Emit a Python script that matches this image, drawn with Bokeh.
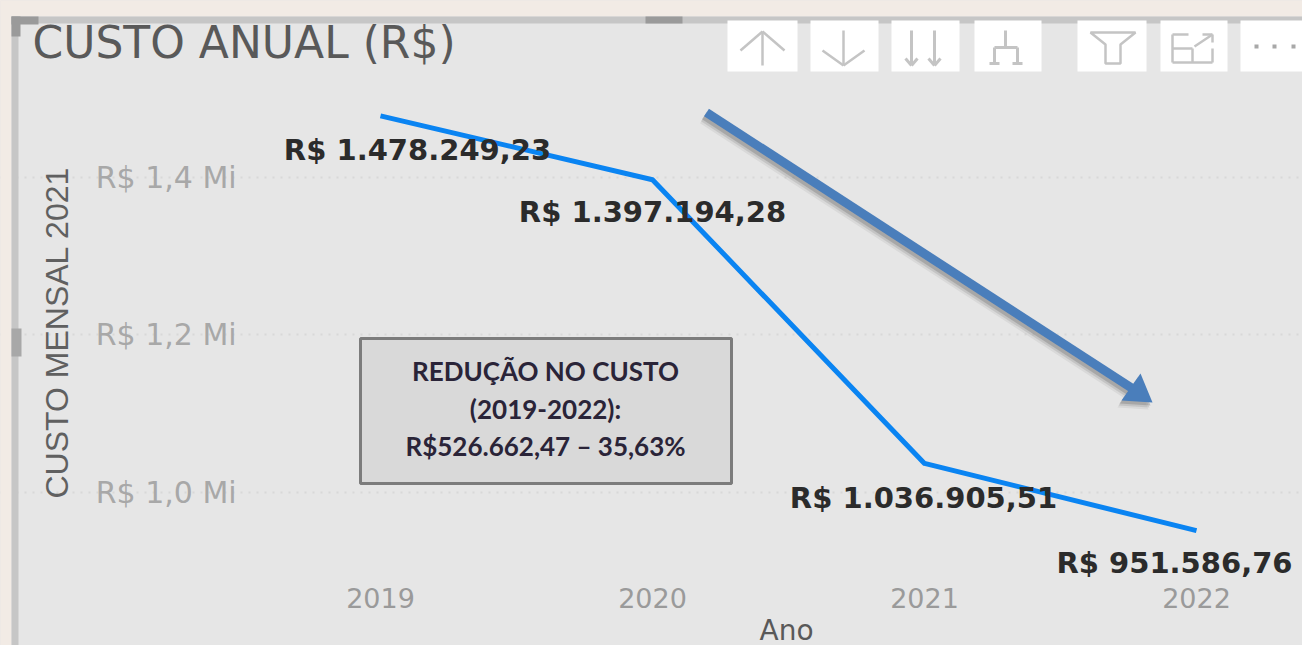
from bokeh.plotting import figure
from bokeh.embed import file_html
from bokeh.resources import INLINE
from bokeh.models import ColumnDataSource, FixedTicker, Label, BoxAnnotation, Arrow, PolyAnnotation, Range1d
from bokeh.core.properties import value

years = [2019, 2020, 2021, 2022]
costs = [1478249.23, 1397194.28, 1036905.51, 951586.76]
cost_labels = ["R$ 1.478.249,23", "R$ 1.397.194,28", "R$ 1.036.905,51", "R$ 951.586,76"]
y_ticks = [1000000, 1200000, 1400000]
y_tick_labels = ["R$ 1,0 Mi", "R$ 1,2 Mi", "R$ 1,4 Mi"]
chart_title = "CUSTO ANUAL (R$)"
y_title = "CUSTO MENSAL 2021"
x_title = "Ano"
note_lines = ["REDUÇÃO NO CUSTO", "(2019-2022):", "R$526.662,47 – 35,63%"]

BG = "#e6e6e6"
BEIGE = "#f2ebe5"
ICON = "#c4c4c4"
W, H = 1302, 645

# The frame fills the canvas, so that the panel chrome is not clipped; the axes sit at fixed places inside it.
X_LEFT, X_RIGHT = 2019 - 380 / 272, 2019 + 922 / 272
Y_TOP, Y_BOTTOM = 1624760, 805710
AXIS_X, AXIS_X_END = 2018.596, 2022.39
AXIS_Y, AXIS_Y_END = 888254, 1518000

p = figure(width=W, height=H, output_backend="svg", toolbar_location=None,
           x_range=Range1d(X_LEFT, X_RIGHT), y_range=Range1d(Y_BOTTOM, Y_TOP),
           min_border_left=0, min_border_right=0, min_border_top=0, min_border_bottom=0,
           background_fill_color=BG, border_fill_color=BG, outline_line_color=None)

xa = p.xaxis[0]
xa.fixed_location = AXIS_Y
xa.bounds = (AXIS_X, AXIS_X_END)
xa.ticker = FixedTicker(ticks=years)
xa.major_label_overrides = {y: str(y) for y in years}
xa.major_label_text_font = "DejaVu Sans"
xa.major_label_text_font_size = "27px"
xa.major_label_text_color = "#9a9a9a"
xa.major_label_standoff = 2
xa.axis_label = x_title
xa.axis_label_text_font = "DejaVu Sans"
xa.axis_label_text_font_size = "28px"
xa.axis_label_text_font_style = "normal"
xa.axis_label_text_color = "#595959"
xa.axis_label_standoff = 2

ya = p.yaxis[0]
ya.fixed_location = AXIS_X
ya.bounds = (AXIS_Y, AXIS_Y_END)
ya.ticker = FixedTicker(ticks=y_ticks)
ya.major_label_overrides = dict(zip(y_ticks, y_tick_labels))
ya.major_label_text_font = "DejaVu Sans"
ya.major_label_text_font_size = "30px"
ya.major_label_text_color = "#a8a8a8"
ya.major_label_standoff = 28
ya.axis_label = y_title
ya.axis_label_text_font = "Liberation Sans"
ya.axis_label_text_font_size = "32px"
ya.axis_label_text_font_style = "normal"
ya.axis_label_text_color = "#606060"
ya.axis_label_standoff = 18
for ax in (xa, ya):
    ax.axis_line_color = None
    ax.major_tick_line_color = None
    ax.minor_tick_line_color = None

p.xgrid.grid_line_color = None
p.ygrid.ticker = FixedTicker(ticks=y_ticks)
p.ygrid.bounds = (AXIS_X, AXIS_X_END)
p.ygrid.grid_line_color = "#d8d8d8"
p.ygrid.grid_line_dash = "2 6"
p.ygrid.grid_line_width = 2


def box(l, t, r, b, fill, line=None, lw=1):
    p.add_layout(BoxAnnotation(left=l, right=r, top=t, bottom=b, left_units="canvas", right_units="canvas",
                               top_units="canvas", bottom_units="canvas", fill_color=fill, fill_alpha=1,
                               line_color=line, line_alpha=1, line_width=lw))


def poly(xs, ys, fill=None, alpha=0, lw=2.5, line=ICON):
    p.add_layout(PolyAnnotation(xs=xs, ys=ys, xs_units="canvas", ys_units="canvas", line_color=line, line_alpha=1,
                                line_width=lw, fill_color=fill, fill_alpha=alpha))


def path(pts, lw=2.5):
    for (x0, y0), (x1, y1) in zip(pts, pts[1:]):
        poly([x0, x1], [y0, y1], lw=lw)


# Panel chrome
for l, t, r, b, c in [
    (0, 0, W, 16, BEIGE), (0, 0, 11, H, BEIGE),
    (11, 16, W, 23, "#c6c6c6"), (11, 16, 18, H, "#c6c6c6"),
    (11, 16, 38, 24, "#9a9a9a"), (11, 16, 20, 36, "#9a9a9a"),
    (645, 16, 682, 23, "#9a9a9a"), (11, 328, 21, 356, "#a8a8a8"),
]:
    box(l, t, r, b, c)

# Visual-header icon tiles
for l, r in [(727, 797), (810, 878), (891, 959), (974, 1041), (1077, 1146), (1160, 1227), (1240, 1302)]:
    box(l, 20, r, 71, "white")

path([(762, 65), (762, 31)])
path([(740, 50), (762, 31), (784, 50)])
path([(843, 30), (843, 65)])
path([(822, 50), (843, 65), (864, 50)])
for x in (911, 934):
    path([(x, 30), (x, 64)], 3)
    path([(x - 6, 58), (x, 65), (x + 6, 58)], 3)
path([(1005, 30), (1005, 47)], 3)
path([(994, 62), (994, 47), (1017, 47), (1017, 62)], 3)
for x in (994, 1017):
    path([(x - 5, 63), (x + 5, 63)], 3)
poly([1090, 1135, 1120, 1120, 1105, 1105], [32, 32, 44, 63, 63, 44])
path([(1188, 34), (1172, 34), (1172, 62), (1212, 62), (1212, 48)])
path([(1172, 48), (1192, 48), (1192, 62)])
path([(1194, 46), (1212, 34)])
path([(1202, 34), (1212, 34), (1212, 42)])
for x in (1256, 1274, 1293):
    box(x - 2, 44, x + 2, 48, "#a8a8a8")

# Series
p.line(years, costs, line_color="#0a84f2", line_width=5, line_join="round")

# Data labels
label_dx = [37, 0, -1, -22]
label_dy = [34, 32, 35, 32]
src = ColumnDataSource(dict(x=years, y=costs, t=cost_labels, dx=label_dx, dy=label_dy))
p.text("x", "y", text="t", x_offset="dx", y_offset="dy", source=src, text_align="center", text_baseline="middle",
       text_font=value("DejaVu Sans"), text_font_style="bold", text_font_size="29px", text_color="#2b2b2b")

# Arrow drawn on the picture, with its soft shadow
for dx, dy, c, a in [(-4, 7, "#7d7d7d", 0.12), (-3, 5, "#7d7d7d", 0.22), (-2, 3, "#7d7d7d", 0.4), (0, 0, "#4a7ebb", 1)]:
    p.add_layout(Arrow(x_start=706 + dx, y_start=112 + dy, x_end=1135 + dx, y_end=390 + dy,
                       start_units="canvas", end_units="canvas", line_color=c, line_alpha=a, line_width=9, end=None))
    poly([1140 + dx, 1152 + dx, 1121 + dx], [373 + dy, 402 + dy, 400 + dy], fill=c, alpha=a, lw=0, line=None)

# Note box
box(360, 338, 731, 483, "#d9d9d9", "#7c7c7c", 3)
for line, py in zip(note_lines, [370, 408, 445]):
    p.add_layout(Label(x=545, y=py, x_units="canvas", y_units="canvas", text=line, text_align="center",
                       text_baseline="middle", text_font="Lato", text_font_size="26px", text_font_style="bold",
                       text_color="#2a2438"))

# Chart title
p.add_layout(Label(x=32, y=42, x_units="canvas", y_units="canvas", text=chart_title, text_align="left",
                   text_baseline="middle", text_font="DejaVu Sans", text_font_size="44px", text_color="#595959"))

html = file_html(p, INLINE).replace("<head>", "<head><style>html,body{margin:0;background:%s;overflow:hidden}</style>" % BEIGE, 1)
open("out.html", "w").write(html)
